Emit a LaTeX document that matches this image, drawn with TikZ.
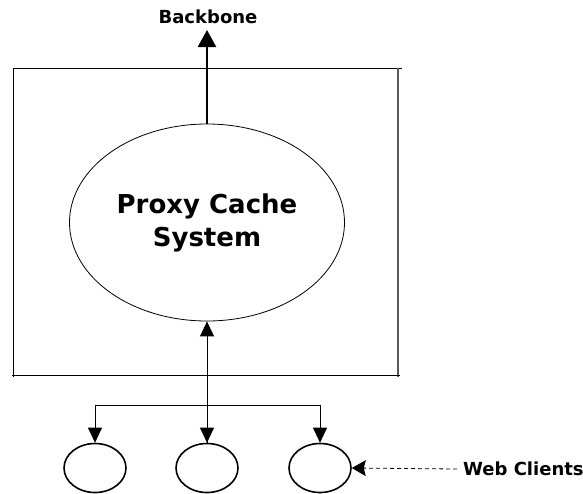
\documentclass[tikz,border=0pt]{standalone}
\usepackage{fontspec}
\setmainfont{DejaVu Sans}
\usetikzlibrary{arrows.meta,shapes.geometric}
\begin{document}
\begin{tikzpicture}[x=1pt,y=-1pt,
  lbl/.style={font=\bfseries\fontsize{18}{22}\selectfont, inner sep=0pt},
  core/.style={ellipse, draw, line width=0.8pt, minimum width=275pt, minimum height=197pt,
    font=\bfseries\fontsize{26}{33}\selectfont, align=center, inner sep=0pt},
  client/.style={ellipse, draw, line width=1.6pt, minimum width=62pt, minimum height=49pt, inner sep=0pt},
  tip/.style={-{Triangle[length=15pt,width=14pt]}},
  link/.style={line width=0.9pt}]
\useasboundingbox (0,0) rectangle (583,493);

% enclosing system boundary
\draw[line width=0.8pt] (13,68) -- (402,68);
\draw[line width=0.8pt] (13,68) -- (13,377);
\draw[line width=1.2pt, black!65] (398,68) -- (398,377);
\draw[line width=0.8pt] (12,375) -- (400,375);

% proxy cache system
\node[core] (pcs) at (207,222.5) {Proxy Cache\\System};

% uplink to the backbone
\node[lbl] (bb) at (208,17) {Backbone};
\coordinate (up) at (207,30);
\draw[line width=2.6pt, -{Triangle[length=17pt,width=18pt]}] (pcs.north) -- (up);

% web clients
\node[client] (c1) at (95,468) {};
\node[client] (c2) at (207,468) {};
\node[client] (c3) at (320,468) {};

% distribution links
\coordinate (hub) at (207,405);
\draw[link, tip] (c2.north) -- (pcs.south);
\draw[link, tip] (hub) -- (c2.north);
\draw[link, tip] (hub) -| (c1.north);
\draw[link, tip] (hub) -| (c3.north);

% label for the clients
\node[lbl, anchor=west] (wc) at (463,469) {Web Clients};
\draw[line width=0.8pt, dash pattern=on 4pt off 3pt,
  -{Stealth[length=14pt,width=16pt,inset=2pt,fill=black,line width=0pt]}]
  ([xshift=-6pt]wc.west) -- (c3.east);
\end{tikzpicture}
\end{document}
